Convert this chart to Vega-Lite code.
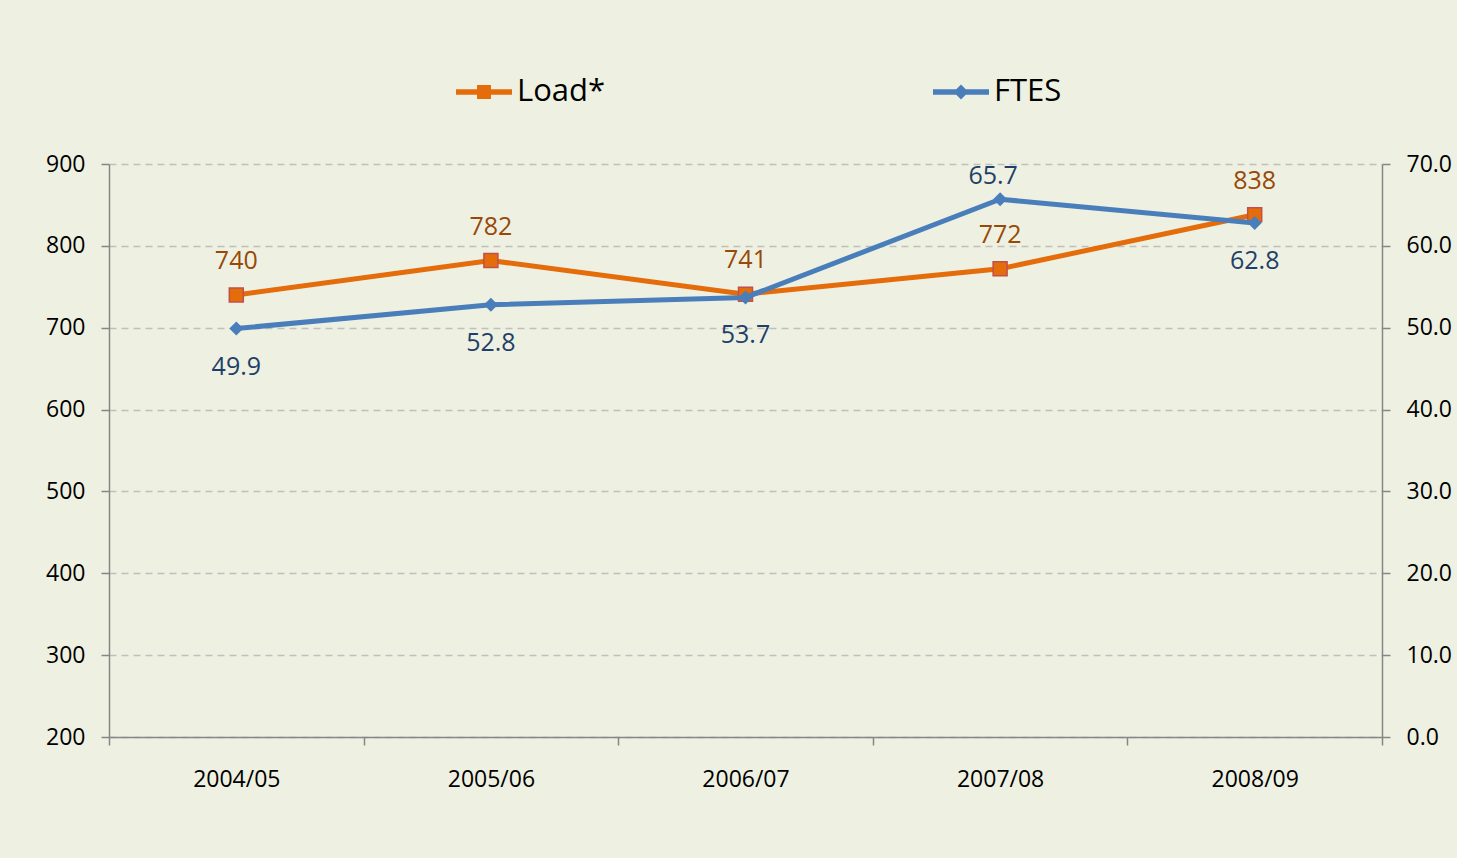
{
  "$schema": "https://vega.github.io/schema/vega-lite/v6.json",
  "width": 1273,
  "height": 573,
  "autosize": {"type": "none"},
  "padding": {"left": 109, "top": 164, "right": 75, "bottom": 121},
  "background": "#EEF1E1",
  "config": {
    "view": {"stroke": null},
    "font": "Open Sans",
    "axis": {
      "labelFont": "Open Sans",
      "labelFontSize": 23,
      "labelColor": "#000000",
      "domainColor": "#868686",
      "tickColor": "#868686",
      "domainWidth": 1.5,
      "tickWidth": 1.5,
      "tickSize": 8,
      "title": null
    }
  },
  "data": {
    "values": [
      {"year": "2004/05", "load": 740, "ftes": 49.9},
      {"year": "2005/06", "load": 782, "ftes": 52.8},
      {"year": "2006/07", "load": 741, "ftes": 53.7},
      {"year": "2007/08", "load": 772, "ftes": 65.7},
      {"year": "2008/09", "load": 838, "ftes": 62.8}
    ]
  },
  "encoding": {
    "x": {
      "field": "year",
      "type": "nominal",
      "sort": null,
      "scale": {"type": "band", "paddingInner": 0, "paddingOuter": 0},
      "axis": {"labelAngle": 0, "tickBand": "extent", "grid": false, "labelPadding": 23, "title": null}
    }
  },
  "layer": [
    {
      "encoding": {
        "y": {
          "field": "load",
          "type": "quantitative",
          "scale": {"domain": [200, 900], "nice": false, "zero": false},
          "axis": {
            "orient": "left",
            "values": [200, 300, 400, 500, 600, 700, 800, 900],
            "grid": true,
            "gridColor": "#BFBFBF",
            "gridDash": [7, 5],
            "gridWidth": 1.5,
            "labelPadding": 16,
            "title": null
          }
        }
      },
      "layer": [
        {
          "mark": {"type": "line", "strokeWidth": 5, "color": "#E46C0A"},
          "encoding": {
            "color": {
              "datum": "Load*",
              "scale": {"domain": ["Load*", "FTES"], "range": ["#E46C0A", "#4A7EBB"]},
              "legend": {
                "orient": "none",
                "legendX": 347,
                "legendY": -100,
                "direction": "horizontal",
                "title": null,
                "labelFont": "Open Sans",
                "labelFontSize": 31,
                "labelColor": "#000000",
                "labelOffset": 5,
                "columnPadding": 327,
                "symbolSize": 3136,
                "encode": {
                  "symbols": {
                    "update": {
                      "shape": [
                        {"test": "datum.value === 'FTES'", "value": "M-1,-0.1 L1,-0.1 L1,0.1 L-1,0.1 Z M0,-0.27 L0.27,0 L0,0.27 L-0.27,0 Z"},
                        {"value": "M-1,-0.1 L1,-0.1 L1,0.1 L-1,0.1 Z M-0.25,-0.25 L0.25,-0.25 L0.25,0.25 L-0.25,0.25 Z"}
                      ],
                      "fill": [
                        {"test": "datum.value === 'FTES'", "value": "#4A7EBB"},
                        {"value": "#E46C0A"}
                      ],
                      "fillOpacity": {"value": 1},
                      "strokeWidth": {"value": 0}
                    }
                  }
                }
              }
            }
          }
        },
        {
          "mark": {"type": "point", "shape": "square", "filled": true, "size": 196, "fill": "#E46C0A", "stroke": "#C0504D", "strokeWidth": 1.5, "opacity": 1}
        },
        {
          "mark": {"type": "text", "dy": -34, "fontSize": 25, "font": "Open Sans", "color": "#984807"},
          "encoding": {"text": {"field": "load", "type": "quantitative"}}
        }
      ]
    },
    {
      "encoding": {
        "y": {
          "field": "ftes",
          "type": "quantitative",
          "scale": {"domain": [0, 70], "nice": false},
          "axis": {
            "orient": "right",
            "values": [0, 10, 20, 30, 40, 50, 60, 70],
            "format": ".1f",
            "grid": false,
            "labelPadding": 16,
            "title": null
          }
        }
      },
      "layer": [
        {
          "mark": {"type": "line", "strokeWidth": 5, "color": "#4A7EBB"},
          "encoding": {"color": {"datum": "FTES"}}
        },
        {
          "mark": {"type": "point", "shape": "diamond", "filled": true, "size": 196, "fill": "#4A7EBB", "opacity": 1}
        },
        {
          "transform": [{"filter": "datum.year !== '2007/08'"}],
          "mark": {"type": "text", "dy": 38, "fontSize": 25, "font": "Open Sans", "color": "#1F3F6A"},
          "encoding": {"text": {"field": "ftes", "type": "quantitative", "format": ".1f"}}
        },
        {
          "transform": [{"filter": "datum.year === '2007/08'"}],
          "mark": {"type": "text", "dy": -23, "dx": -7, "fontSize": 25, "font": "Open Sans", "color": "#1F3F6A"},
          "encoding": {"text": {"field": "ftes", "type": "quantitative", "format": ".1f"}}
        }
      ]
    }
  ],
  "resolve": {"scale": {"y": "independent"}}
}
